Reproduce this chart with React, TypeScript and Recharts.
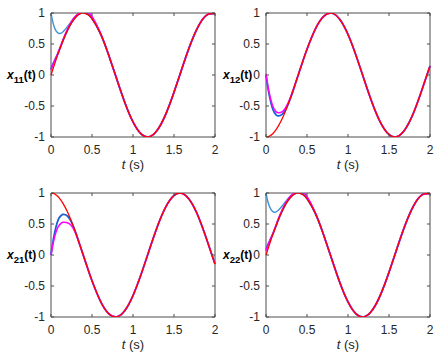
import React from "react";
import { LineChart, Line, XAxis, YAxis, ReferenceArea } from "recharts";

// sample times (s), denser at the start where the estimates converge
const T = [0, 0.025, 0.05, 0.075, 0.1, 0.125, 0.15, 0.2, 0.25, 0.3, 0.35, 0.4, 0.45, 0.5, 0.6, 0.7, 0.8, 0.9, 1.0, 1.1, 1.2, 1.3, 1.4, 1.5, 1.6, 1.7, 1.8, 1.9, 2.0];

// reference signals (red)
const SIN_REF = [0, 0.1, 0.2, 0.3, 0.39, 0.48, 0.565, 0.717, 0.841, 0.932, 0.985, 1.0, 0.974, 0.909, 0.675, 0.335, -0.058, -0.443, -0.757, -0.952, -0.996, -0.883, -0.631, -0.279, 0.117, 0.494, 0.794, 0.968, 0.989];
const COS_REF = [1, 0.995, 0.98, 0.955, 0.921, 0.878, 0.825, 0.697, 0.54, 0.362, 0.17, -0.029, -0.227, -0.416, -0.737, -0.942, -0.998, -0.897, -0.654, -0.307, 0.087, 0.469, 0.776, 0.96, 0.993, 0.869, 0.608, 0.247, -0.146];
const NEG_COS_REF = [-1, -0.995, -0.98, -0.955, -0.921, -0.878, -0.825, -0.697, -0.54, -0.362, -0.17, 0.029, 0.227, 0.416, 0.737, 0.942, 0.998, 0.897, 0.654, 0.307, -0.087, -0.469, -0.776, -0.96, -0.993, -0.869, -0.608, -0.247, 0.146];

// transient part of each estimate (t <= 0.6); after that they sit on the reference
const X11_LIGHT = [1.0, 0.84, 0.74, 0.69, 0.67, 0.675, 0.7, 0.78, 0.87, 0.95, 0.995, 1.01, 0.985, 0.915, 0.676];
const X11_BLUE = [0.1, 0.18, 0.25, 0.32, 0.4, 0.485, 0.57, 0.72, 0.845, 0.935, 0.99, 1.005, 0.98, 0.912, 0.676];
const X11_MAG = [0.08, 0.17, 0.245, 0.32, 0.405, 0.49, 0.58, 0.735, 0.86, 0.95, 1.005, 1.025, 1.01, 0.945, 0.69];

const X12_BLUE = [0, -0.22, -0.39, -0.52, -0.6, -0.645, -0.66, -0.63, -0.53, -0.37, -0.175, 0.027, 0.226, 0.416, 0.737];
const X12_MAG = [0.02, -0.19, -0.35, -0.47, -0.55, -0.595, -0.61, -0.59, -0.5, -0.355, -0.17, 0.028, 0.227, 0.416, 0.737];

const X21_BLUE = [0, 0.22, 0.39, 0.52, 0.6, 0.64, 0.655, 0.63, 0.53, 0.365, 0.17, -0.029, -0.227, -0.416, -0.737];
const X21_MAG = [0, 0.18, 0.32, 0.42, 0.48, 0.515, 0.527, 0.52, 0.47, 0.35, 0.168, -0.029, -0.227, -0.416, -0.737];

const X22_LIGHT = [1.0, 0.85, 0.76, 0.71, 0.69, 0.695, 0.72, 0.795, 0.88, 0.955, 0.995, 1.01, 0.985, 0.915, 0.676];
const X22_BLUE = [0.09, 0.17, 0.245, 0.315, 0.395, 0.48, 0.57, 0.72, 0.845, 0.935, 0.99, 1.005, 0.98, 0.912, 0.676];
const X22_MAG = [0.07, 0.16, 0.24, 0.315, 0.4, 0.49, 0.58, 0.735, 0.86, 0.95, 1.005, 1.025, 1.01, 0.945, 0.69];

const X_TICKS = [0, 0.5, 1, 1.5, 2];
const Y_TICKS = [-1, -0.5, 0, 0.5, 1];

const FONT = '"Liberation Sans", Arial, sans-serif';
const AX = "#4d4d4d";
const TXT = "#262626";
const PW = 164; // plot width
const PH = 124; // plot height
const MT = 13;

function build(ref: number[], parts: Record<string, number[]>) {
  return T.map((t, i) => {
    const row: Record<string, number> = { t, red: ref[i] };
    for (const k of Object.keys(parts)) {
      const v = parts[k];
      row[k] = i < v.length ? v[i] : ref[i];
    }
    return row;
  });
}

const XTick = (props: any) => {
  const { x, y, payload } = props;
  return (
    <g>
      <line x1={x} x2={x} y1={y} y2={y - 3} stroke={AX} />
      <line x1={x} x2={x} y1={y - PH} y2={y - PH + 3} stroke={AX} />
      <text x={x} y={y + 17} textAnchor="middle" fontSize={12} fill={TXT} fontFamily={FONT}>
        {payload.value}
      </text>
    </g>
  );
};

const YTick = (props: any) => {
  const { x, y, payload } = props;
  return (
    <g>
      <line x1={x} x2={x + 3} y1={y} y2={y} stroke={AX} />
      <line x1={x + PW} x2={x + PW - 3} y1={y} y2={y} stroke={AX} />
      <text x={x - 6} y={y} dy="0.36em" textAnchor="end" fontSize={12} fill={TXT} fontFamily={FONT}>
        {payload.value}
      </text>
    </g>
  );
};

interface PanelProps {
  data: Record<string, number>[];
  sub: string;
  left: number;
  top: number;
  yw: number;
  labelX: number;
  light?: boolean;
}

function Panel({ data, sub, left, top, yw, labelX, light }: PanelProps) {
  const mr = 221 - yw - PW;
  const cx = yw + PW / 2;
  return (
    <div style={{ position: "absolute", left, top }}>
      <LineChart width={221} height={180} data={data} margin={{ top: MT, right: mr, bottom: 0, left: 0 }}>
        <XAxis
          dataKey="t"
          type="number"
          domain={[0, 2]}
          ticks={X_TICKS}
          height={180 - MT - PH}
          axisLine={false}
          tickLine={false}
          tickSize={0}
          tickMargin={0}
          tick={<XTick />}
          interval={0}
          label={{
            content: () => (
              <text x={cx} y={MT + PH + 32} textAnchor="middle" fontSize={13} fill={TXT} fontFamily={FONT}>
                <tspan fontStyle="italic">t</tspan> (s)
              </text>
            ),
          }}
        />
        <YAxis
          type="number"
          domain={[-1, 1]}
          ticks={Y_TICKS}
          width={yw}
          allowDataOverflow
          axisLine={false}
          tickLine={false}
          tickSize={0}
          tickMargin={0}
          tick={<YTick />}
          interval={0}
          label={{
            content: () => (
              <text x={labelX} y={MT + PH / 2 + 4} fontSize={12} fontWeight="bold" fill="#000" fontFamily={FONT}>
                <tspan fontStyle="italic">x</tspan>
                <tspan fontSize={9.5} dy={4}>{sub}</tspan>
                <tspan dy={-4}>(t)</tspan>
              </text>
            ),
          }}
        />
        <ReferenceArea x1={0} x2={2} y1={-1} y2={1} fill="none" stroke={AX} strokeOpacity={1} />
        {light && (
          <Line type="natural" dataKey="light" stroke="#3b94d6" strokeWidth={1.4} dot={false} isAnimationActive={false} />
        )}
        <Line type="natural" dataKey="blue" stroke="#1a5fd9" strokeWidth={1.8} dot={false} isAnimationActive={false} />
        <Line type="natural" dataKey="mag" stroke="#ff00ff" strokeWidth={1.5} dot={false} isAnimationActive={false} />
        <Line type="natural" dataKey="red" stroke="#ff0000" strokeWidth={1.3} dot={false} isAnimationActive={false} />
      </LineChart>
    </div>
  );
}

export default function App() {
  const d11 = build(SIN_REF, { light: X11_LIGHT, blue: X11_BLUE, mag: X11_MAG });
  const d12 = build(NEG_COS_REF, { blue: X12_BLUE, mag: X12_MAG });
  const d21 = build(COS_REF, { blue: X21_BLUE, mag: X21_MAG });
  const d22 = build(SIN_REF, { light: X22_LIGHT, blue: X22_BLUE, mag: X22_MAG });
  return (
    <div style={{ position: "absolute", left: 0, top: 0, width: 442, height: 361, background: "#fff", fontFamily: FONT }}>
      <Panel data={d11} sub="11" left={0} top={0} yw={51} labelX={7} light />
      <Panel data={d12} sub="12" left={221} top={0} yw={45} labelX={2} />
      <Panel data={d21} sub="21" left={0} top={180} yw={51} labelX={7} />
      <Panel data={d22} sub="22" left={221} top={180} yw={45} labelX={2} light />
    </div>
  );
}
